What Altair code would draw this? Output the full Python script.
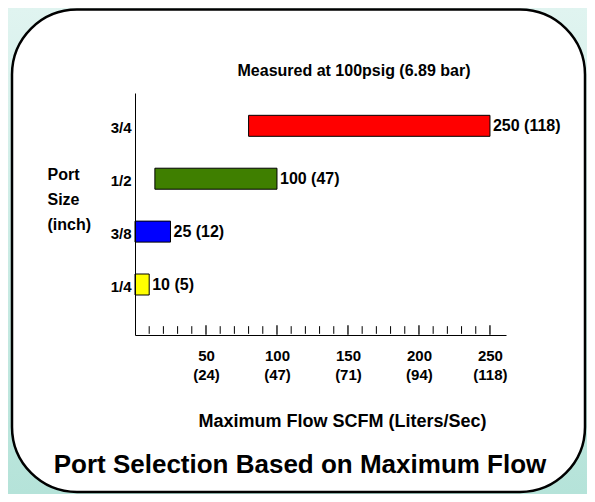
import json
import altair as alt
import pandas as pd

# ---- data ----
ports = ["1/4", "3/8", "1/2", "3/4"]
flow_start = [0, 0, 14, 80]
flow_end = [10, 25, 100, 250]
flow_lps = [5, 12, 47, 118]
bar_colors = ["#ffff00", "#0000ff", "#3f7f00", "#ff0000"]
major_ticks = [50, 100, 150, 200, 250]
major_lps = [24, 47, 71, 94, 118]
minor_ticks = [10, 20, 30, 40, 60, 70, 80, 90, 110, 120, 130, 140,
               160, 170, 180, 190, 210, 220, 230, 240]

title_main = "Port Selection Based on Maximum Flow"
title_sub = "Measured at 100psig (6.89 bar)"
x_title = "Maximum Flow SCFM (Liters/Sec)"
y_title = ["Port", "Size", "(inch)"]

FONT = "Liberation Sans, Arial, sans-serif"

df = pd.DataFrame({
    "port": ports,
    "pos": [i + 1 for i in range(len(ports))],
    "start": flow_start,
    "end": flow_end,
    "label": [f"{e} ({l})" for e, l in zip(flow_end, flow_lps)],
    "color": bar_colors,
})

W, H = 371, 242
Y0 = 0.14
PX = 4.386 / 242.0
xscale = alt.Scale(domain=[0, 261.3], nice=False, zero=False)
yscale = alt.Scale(domain=[Y0, 4.526], nice=False, zero=False)

y_label_expr = json.dumps([""] + ports) + "[datum.value]"
lps_str = json.dumps(["(%d)" % v for v in major_lps])
x_label_expr = "[datum.label, " + lps_str + "[round(datum.value / 50) - 1]]"

xaxis = alt.Axis(
    values=major_ticks, labelExpr=x_label_expr, labelOverlap=False,
    ticks=False, domainColor="black", grid=False,
    labelFont=FONT, labelFontSize=15, labelFontWeight="bold", labelColor="black",
    labelPadding=13, labelLineHeight=19,
    title=x_title, titleFont=FONT, titleFontSize=18, titleFontWeight="bold",
    titleColor="black", titleX=207, titleY=86, titleAlign="center",
    titleBaseline="middle", zindex=1,
)
yaxis = alt.Axis(
    values=[1, 2, 3, 4], labelExpr=y_label_expr, ticks=False, domainColor="black",
    grid=False, labelFont=FONT, labelFontSize=15, labelFontWeight="bold",
    labelColor="black", labelPadding=4, labelOffset=2,
    title=y_title, titleAngle=0, titleAlign="left", titleBaseline="top",
    titleX=-88, titleY=73, titleFont=FONT, titleFontSize=16,
    titleFontWeight="bold", titleColor="black", titleLineHeight=25, zindex=1,
)

one = pd.DataFrame({"a": [0]})

bg = alt.Chart(one).mark_rect(
    fill=alt.Gradient(
        gradient="linear",
        stops=[alt.GradientStop(color="#e0f4f0", offset=0),
               alt.GradientStop(color="#b5e3d9", offset=1)],
        x1=0, x2=0, y1=0, y2=1,
    )
).encode(x=alt.value(-127), x2=alt.value(452), y=alt.value(-85), y2=alt.value(401))

card = alt.Chart(one).mark_rect(
    fill="white", stroke="black", strokeWidth=2.5, cornerRadius=65
).encode(x=alt.value(-123), x2=alt.value(450), y=alt.value(-83.5), y2=alt.value(399))

bars = alt.Chart(df).mark_bar(
    orient="horizontal", size=21, stroke="black", strokeWidth=1
).encode(
    x=alt.X("start:Q", scale=xscale, axis=xaxis),
    x2="end:Q",
    y=alt.Y("pos:Q", scale=yscale, axis=yaxis),
    fill=alt.Fill("color:N", scale=None),
)

minor = alt.Chart(pd.DataFrame({"v": minor_ticks})).mark_rule(
    color="black", strokeWidth=1
).encode(
    x=alt.X("v:Q", scale=xscale, axis=xaxis),
    y=alt.datum(Y0 - 4 * PX, scale=yscale, axis=yaxis),
    y2=alt.datum(Y0 + 4 * PX),
)
major = alt.Chart(pd.DataFrame({"v": major_ticks})).mark_rule(
    color="black", strokeWidth=1.3
).encode(
    x=alt.X("v:Q", scale=xscale, axis=xaxis),
    y=alt.datum(Y0 - 5 * PX, scale=yscale, axis=yaxis),
    y2=alt.datum(Y0 + 5 * PX),
)

labels = alt.Chart(df).mark_text(
    align="left", baseline="middle", dx=3, font=FONT, fontSize=16,
    fontWeight="bold", color="black"
).encode(x="end:Q", y="pos:Q", text="label:N")

sub = alt.Chart(pd.DataFrame({"t": [title_sub]})).mark_text(
    align="center", baseline="middle", font=FONT, fontSize=16,
    fontWeight="bold", color="black"
).encode(x=alt.value(219), y=alt.value(-22), text="t:N")

main = alt.Chart(pd.DataFrame({"t": [title_main]})).mark_text(
    align="center", baseline="middle", font=FONT, fontSize=26,
    fontWeight="bold", color="black"
).encode(x=alt.value(165), y=alt.value(372), text="t:N")

chart = alt.layer(bg, card, bars, minor, major, labels, sub, main).properties(
    width=W, height=H, padding=0, background="#c8ebe4"
).configure_view(stroke=None)

chart.save("out.html", embed_options={"renderer": "svg", "actions": False})
